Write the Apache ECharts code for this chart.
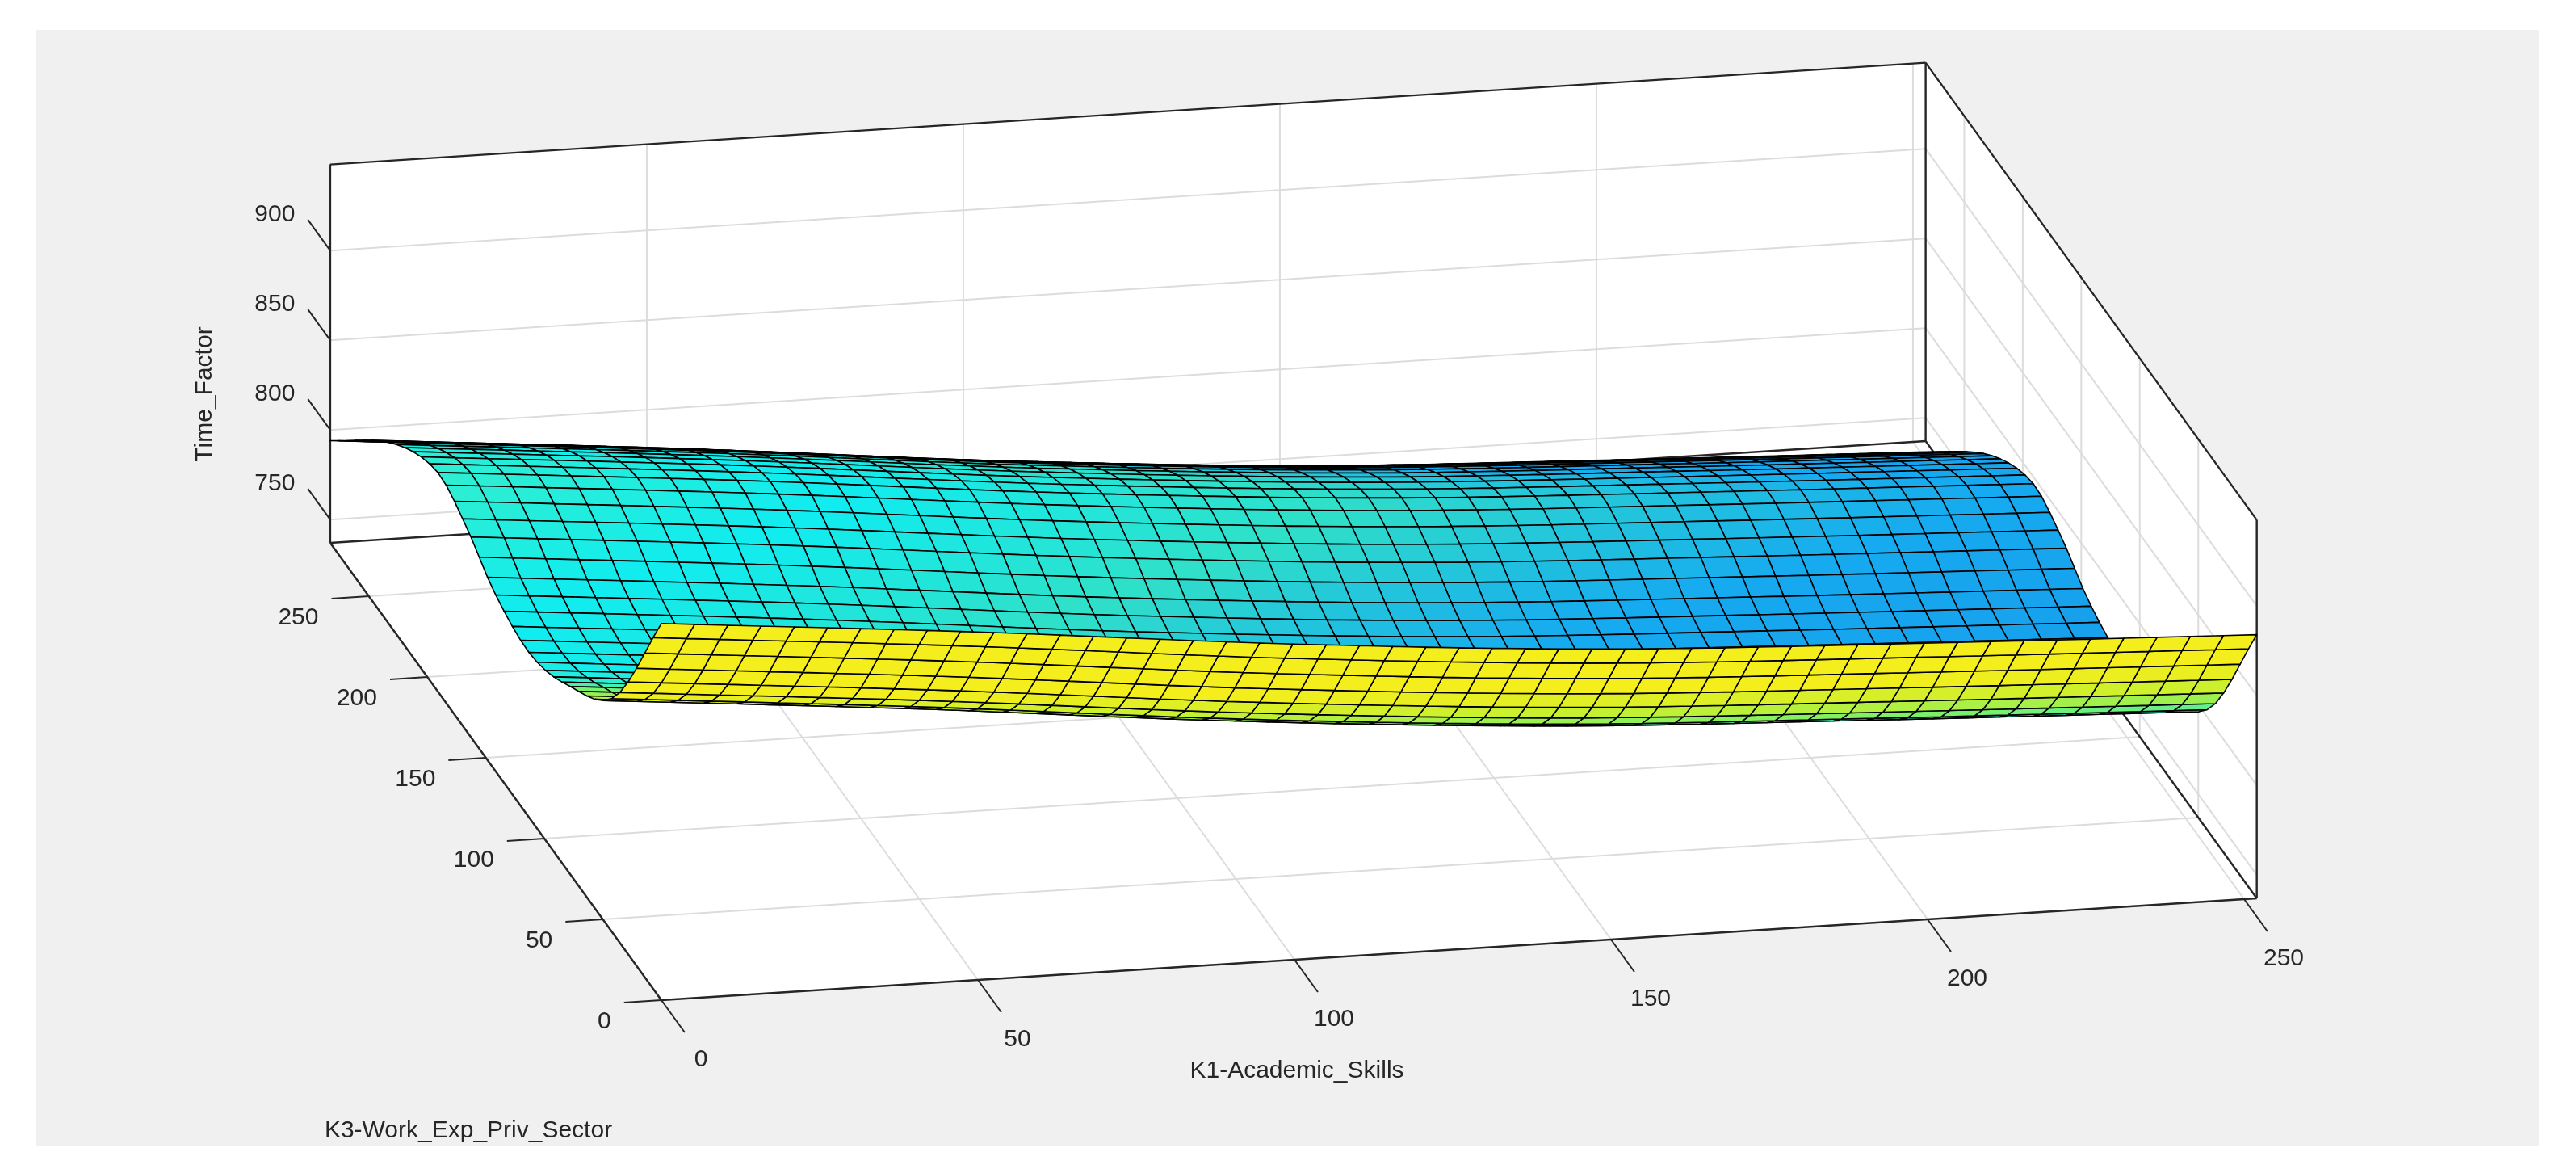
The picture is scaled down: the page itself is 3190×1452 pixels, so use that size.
<!DOCTYPE html>
<html><head><meta charset="utf-8">
<script src="https://cdn.jsdelivr.net/npm/echarts@6/dist/echarts.min.js"></script>
<style>html,body{margin:0;padding:0;background:#fff}#c{width:3190px;height:1452px}</style>
</head><body><div id="c"></div>
<script>
// ---- data ----
const k1Ticks = [0, 50, 100, 150, 200, 250];
const k3Ticks = [0, 50, 100, 150, 200, 250];
const zTicks = [750, 800, 850, 900];
const k1Range = [0, 252];
const k3Range = [0, 283];
const zRange = [737, 948];
// surface profile along K3 (at K1 = 0)
const profileK3 = [0, 40, 81, 112, 143, 167, 192, 229, 283];
const profileZ  = [947, 870, 840, 829, 836, 851, 859, 841, 794];
// offset of the surface along K1
const offsetK1 = [0, 50, 100, 150, 200, 252];
const offsetZ  = [0, -16, -34, -48, -56, -63];
const xTitle = 'K1-Academic_Skills';
const yTitle = 'K3-Work_Exp_Priv_Sector';
const zTitle = 'Time_Factor';

// ---- layout (projection of the axes box) ----
const L = {ox: 819, oy: 1238, ax: 7.84, ay: -0.5, bx: -1.449, by: -2.0, cz: -2.22};
function P(k1, k3, z) {
  return [L.ox + L.ax * k1 + L.bx * k3, L.oy + L.ay * k1 + L.by * k3 + L.cz * (z - zRange[0])];
}
function herm(xs, ys, x) {
  const n = xs.length;
  if (x <= xs[0]) return ys[0];
  if (x >= xs[n - 1]) return ys[n - 1];
  let i = 0; while (x > xs[i + 1]) i++;
  const sl = k => k === 0 ? (ys[1] - ys[0]) / (xs[1] - xs[0]) : k === n - 1 ? (ys[n - 1] - ys[n - 2]) / (xs[n - 1] - xs[n - 2]) : (ys[k + 1] - ys[k - 1]) / (xs[k + 1] - xs[k - 1]);
  const h = xs[i + 1] - xs[i], t = (x - xs[i]) / h;
  const t2 = t * t, t3 = t2 * t;
  return (2 * t3 - 3 * t2 + 1) * ys[i] + (t3 - 2 * t2 + t) * h * sl(i) + (-2 * t3 + 3 * t2) * ys[i + 1] + (t3 - t2) * h * sl(i + 1);
}
function surfZ(k1, k3) { return herm(profileK3, profileZ, k3) + herm(offsetK1, offsetZ, k1); }
const ramp = [[690, [28, 134, 226]], [765, [22, 170, 240]], [795, [48, 224, 200]], [830, [16, 236, 240]], [860, [48, 238, 208]], [880, [124, 240, 104]], [910, [200, 240, 48]], [947, [244, 238, 28]]];
function colorOf(c) {
  if (c <= ramp[0][0]) return 'rgb(' + ramp[0][1] + ')';
  for (let i = 0; i < ramp.length - 1; i++) {
    if (c <= ramp[i + 1][0]) {
      const t = (c - ramp[i][0]) / (ramp[i + 1][0] - ramp[i][0]);
      const a = ramp[i][1], b = ramp[i + 1][1];
      return 'rgb(' + a.map((v, j) => Math.round(v + (b[j] - v) * t)).join(',') + ')';
    }
  }
  return 'rgb(' + ramp[ramp.length - 1][1] + ')';
}
const NC = 48, NR = 40;
const cells = [];
for (let i = 0; i < NR; i++) for (let j = 0; j < NC; j++) {
  const k3a = k3Range[0] + (k3Range[1] - k3Range[0]) * i / NR, k3b = k3Range[0] + (k3Range[1] - k3Range[0]) * (i + 1) / NR;
  const k1a = k1Range[0] + (k1Range[1] - k1Range[0]) * j / NC, k1b = k1Range[0] + (k1Range[1] - k1Range[0]) * (j + 1) / NC;
  cells.push([k1a, k1b, k3a, k3b, (k3a + k3b) / 2 + 0.3 * (k1a + k1b) / 2]);
}
cells.sort((p, q) => q[4] - p[4]);

const GRID = '#dcdcdc', EDGE = '#262626', FONT = '30px "Liberation Sans", Arial, sans-serif', TXT = '#262626';
function line(p, q, color, w) { return {type: 'line', shape: {x1: p[0], y1: p[1], x2: q[0], y2: q[1]}, style: {stroke: color, lineWidth: w}, silent: true}; }
function poly(pts, fill) { return {type: 'polygon', shape: {points: pts}, style: {fill: fill, stroke: null}, silent: true}; }
function text(s, x, y, align, va, rot) { return {type: 'text', x: x, y: y, rotation: rot || 0, style: {text: s, font: FONT, fill: TXT, align: align, verticalAlign: va}, silent: true}; }

function boxBack() {
  const [a0, a1] = k1Range, [b0, b1] = k3Range, [z0, z1] = zRange;
  const ch = [];
  ch.push({type: 'rect', shape: {x: 45, y: 37, width: 3099, height: 1381}, style: {fill: '#f0f0f0'}, silent: true});
  ch.push(poly([P(a0, b1, z0), P(a0, b1, z1), P(a1, b1, z1), P(a1, b1, z0)], '#fff'));
  ch.push(poly([P(a1, b1, z0), P(a1, b1, z1), P(a1, b0, z1), P(a1, b0, z0)], '#fff'));
  ch.push(poly([P(a0, b0, z0), P(a1, b0, z0), P(a1, b1, z0), P(a0, b1, z0)], '#fff'));
  k1Ticks.forEach(t => { ch.push(line(P(t, b1, z0), P(t, b1, z1), GRID, 2)); ch.push(line(P(t, b0, z0), P(t, b1, z0), GRID, 2)); });
  k3Ticks.forEach(t => { ch.push(line(P(a1, t, z0), P(a1, t, z1), GRID, 2)); ch.push(line(P(a0, t, z0), P(a1, t, z0), GRID, 2)); });
  zTicks.forEach(t => { ch.push(line(P(a0, b1, t), P(a1, b1, t), GRID, 2)); ch.push(line(P(a1, b1, t), P(a1, b0, t), GRID, 2)); });
  [[P(a0, b1, z0), P(a0, b1, z1)], [P(a0, b1, z1), P(a1, b1, z1)], [P(a1, b1, z0), P(a1, b1, z1)], [P(a1, b1, z1), P(a1, b0, z1)],
   [P(a1, b0, z1), P(a1, b0, z0)], [P(a0, b0, z0), P(a1, b0, z0)], [P(a0, b0, z0), P(a0, b1, z0)], [P(a0, b1, z0), P(a1, b1, z0)], [P(a1, b0, z0), P(a1, b1, z0)]]
    .forEach(s => ch.push(line(s[0], s[1], EDGE, 2.4)));
  k1Ticks.forEach(t => { const p = P(t, b0, z0), q = P(t, b0 - 20, z0); ch.push(line(p, q, EDGE, 2)); ch.push(text(String(t), q[0] + 20, q[1] + 34, 'center', 'middle')); });
  k3Ticks.forEach(t => { const p = P(a0, t, z0), q = P(a0 - 5.9, t, z0); ch.push(line(p, q, EDGE, 2)); ch.push(text(String(t), q[0] - 16, q[1] + 24, 'right', 'middle')); });
  zTicks.forEach(t => { const p = P(a0, b1, t), q = P(a0, b1 + 19, t); ch.push(line(p, q, EDGE, 2)); ch.push(text(String(t), q[0] - 16, q[1] - 6, 'right', 'middle')); });
  ch.push(text(xTitle, 1606, 1326, 'center', 'middle'));
  ch.push(text(yTitle, 580, 1400, 'center', 'middle'));
  ch.push(text(zTitle, 254, 488, 'center', 'middle', Math.PI / 2));
  return {type: 'group', children: ch};
}

const chart = echarts.init(document.getElementById('c'), null, {renderer: 'canvas'});
chart.setOption({
  animation: false,
  backgroundColor: '#ffffff',
  series: [
    {type: 'custom', coordinateSystem: 'none', data: [0], renderItem: () => boxBack(), z: 1},
    {type: 'custom', coordinateSystem: 'none', data: cells, z: 2,
     renderItem: (params, api) => {
       const c = cells[params.dataIndex];
       const [k1a, k1b, k3a, k3b] = c;
       const za = surfZ(k1a, k3a), zb = surfZ(k1b, k3a), zc = surfZ(k1b, k3b), zd = surfZ(k1a, k3b);
       const k1m = (k1a + k1b) / 2, k3m = (k3a + k3b) / 2;
       const cv = (za + zb + zc + zd) / 4 - 0.2 * k1m * (k3m / k3Range[1]) + Math.max(0, 110 - k3m) * 1.0;
       return {type: 'polygon', shape: {points: [P(k1a, k3a, za), P(k1b, k3a, zb), P(k1b, k3b, zc), P(k1a, k3b, zd)]},
               style: {fill: colorOf(cv), stroke: '#000', lineWidth: 1.6, lineJoin: 'round'}, silent: true};
     }}
  ]
});
</script></body></html>
